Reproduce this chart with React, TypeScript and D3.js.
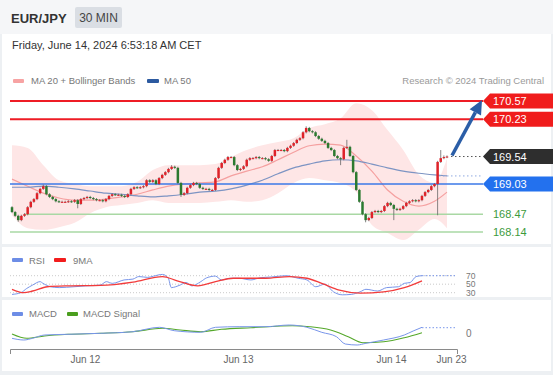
import { useEffect, useRef } from 'react';
import * as d3 from 'd3';

// price candles (30 min), opens follow the previous close
const firstOpen = 168.6;
const closes = [
  168.51, 168.44, 168.36, 168.44, 168.47, 168.6, 168.7, 168.75, 168.86, 168.94,
  168.99, 168.84, 168.79, 168.75, 168.71, 168.7, 168.7, 168.7, 168.71, 168.7,
  168.73, 168.66, 168.75, 168.77, 168.79, 168.77, 168.75, 168.73, 168.73, 168.71,
  168.75, 168.81, 168.84, 168.83, 168.83, 168.81, 168.79, 168.84, 168.94, 168.97,
  168.96, 168.97, 168.99, 169.1, 169.07, 169.1, 169.03, 169.14, 169.2, 169.25,
  169.31, 169.35, 169.33, 169.05, 168.83, 168.86, 168.96, 169.01, 169.05, 169.03,
  168.96, 168.94, 168.94, 168.92, 168.92, 169.14, 169.33, 169.42, 169.48, 169.53,
  169.53, 169.38, 169.29, 169.31, 169.36, 169.48, 169.51, 169.51, 169.53, 169.51,
  169.51, 169.49, 169.46, 169.55, 169.66, 169.66, 169.66, 169.64, 169.7, 169.74,
  169.79, 169.85, 169.88, 169.99, 170.07, 170.01, 169.99, 169.92, 169.87, 169.83,
  169.79, 169.7, 169.66, 169.55, 169.51, 169.49, 169.7, 169.72, 169.55, 169.25,
  168.92, 168.7, 168.47, 168.36, 168.4, 168.51, 168.53, 168.51, 168.53, 168.62,
  168.68, 168.64, 168.57, 168.55, 168.57, 168.62, 168.68, 168.71, 168.73, 168.71,
  168.73, 168.81, 168.88, 168.92, 168.99, 169.03, 169.44, 169.51, 169.53, 169.54,
];
// wick lengths beyond the body, in hundredths of a yen
const wickUp = [
  2, 2, 2, 2, 2, 2, 2, 2, 2, 2, 3, 2, 2, 2, 2, 2, 2, 2, 2, 2,
  2, 2, 2, 2, 2, 2, 2, 2, 2, 2, 2, 2, 2, 2, 2, 2, 2, 2, 2, 2,
  2, 2, 2, 2, 2, 2, 2, 2, 2, 2, 2, 3, 2, 2, 2, 2, 2, 2, 2, 2,
  2, 2, 2, 2, 2, 2, 2, 2, 2, 2, 2, 2, 2, 2, 2, 2, 2, 2, 2, 2,
  2, 2, 2, 2, 2, 2, 2, 2, 2, 2, 2, 2, 2, 2, 3, 2, 2, 2, 2, 2,
  2, 2, 2, 2, 2, 2, 2, 13, 2, 2, 2, 2, 2, 2, 2, 2, 2, 2, 2, 2,
  2, 2, 2, 2, 2, 2, 2, 2, 2, 2, 2, 2, 2, 2, 2, 2, 2, 15, 3, 2,
];
const wickDn = [
  2, 2, 3, 2, 2, 2, 2, 2, 2, 2, 2, 2, 2, 2, 2, 2, 2, 2, 2, 2,
  2, 8, 2, 2, 2, 2, 2, 2, 2, 2, 2, 2, 2, 2, 2, 2, 2, 2, 2, 2,
  2, 2, 2, 2, 2, 2, 2, 2, 2, 2, 2, 2, 2, 2, 4, 2, 2, 2, 2, 2,
  2, 2, 2, 2, 2, 2, 2, 2, 2, 2, 2, 2, 2, 2, 2, 2, 2, 2, 2, 2,
  2, 2, 2, 2, 2, 2, 2, 2, 2, 2, 2, 2, 2, 2, 2, 2, 2, 2, 2, 2,
  2, 2, 2, 2, 2, 11, 2, 2, 2, 2, 2, 2, 2, 4, 2, 2, 2, 2, 2, 2,
  2, 2, 21, 2, 2, 2, 2, 2, 2, 2, 2, 2, 2, 2, 2, 2, 58, 2, 2, 2,
];

// moving averages and bollinger bands, read every 5 candles
const bandIdx = [0, 5, 10, 15, 20, 25, 30, 35, 40, 45, 50, 55, 60, 65, 70, 75, 80, 85, 90, 95, 100, 105, 110, 115, 120, 125, 130, 135, 139];
const ma20 = [169.12, 168.99, 168.86, 168.77, 168.73, 168.73, 168.75, 168.79, 168.84, 168.92, 168.99, 169.03, 169.05, 169.07, 169.18, 169.27, 169.35, 169.48, 169.62, 169.74, 169.77, 169.75, 169.55, 169.27, 168.92, 168.71, 168.62, 168.71, 168.88];
const ma50 = [168.97, 168.97, 168.99, 168.97, 168.94, 168.9, 168.86, 168.84, 168.81, 168.79, 168.81, 168.84, 168.88, 168.9, 168.94, 169.01, 169.1, 169.22, 169.33, 169.4, 169.46, 169.48, 169.46, 169.4, 169.33, 169.27, 169.23, 169.2, 169.18];
const bbUpper = [169.75, 169.7, 169.38, 169.1, 169.03, 168.99, 168.99, 168.99, 169.07, 169.29, 169.38, 169.38, 169.38, 169.4, 169.53, 169.66, 169.75, 169.81, 169.88, 170.07, 170.14, 170.25, 170.53, 170.4, 170.03, 169.66, 169.2, 169.05, 169.51];
const bbLower = [168.45, 168.21, 168.18, 168.23, 168.31, 168.49, 168.6, 168.64, 168.68, 168.73, 168.68, 168.68, 168.68, 168.7, 168.73, 168.7, 168.73, 168.86, 169.05, 169.14, 169.1, 169.05, 168.88, 168.27, 168.12, 167.99, 168.18, 168.38, 168.21];

// RSI panel
const rsiIdx = [0, 3, 5, 7, 9.5, 10.5, 13, 16, 21, 25, 30, 32, 34, 38, 41, 43, 46, 48, 51, 53, 54, 57, 59, 61, 64, 66, 69, 71, 74, 77, 81, 84, 88, 93, 97, 100, 103, 106, 109, 112, 115, 118, 120, 124, 127, 131, 133, 135, 137, 139];
const rsiVal = [26, 30, 40, 48, 56, 52, 44, 42, 44, 46, 48, 56, 52, 60, 62, 68, 66, 69, 73, 64, 42, 48, 54, 46, 56, 65, 69, 60, 64, 64, 60, 65, 67, 70, 64, 60, 44, 50, 32, 25, 26, 32, 38, 34, 42, 44, 52, 54, 68, 70];
const rsiMaIdx = [0, 4, 7, 12, 19, 30, 41, 51, 56, 63, 69, 75, 86, 94, 100, 105, 111, 118, 126, 133, 139];
const rsiMaVal = [38, 30, 34, 44, 46, 47, 55, 68, 58, 46, 56, 64, 64, 68, 64, 52, 36, 29, 32, 42, 58];
const rsiLevels = [70, 50, 30];
const rsiNext = 70;

// MACD panel
const macdIdx = [0, 4, 7, 11, 19, 30, 41, 50, 55, 64, 69, 77, 86, 94, 100, 105, 110, 113, 117, 120, 126, 133, 136, 139];
const macdVal = [-0.053, -0.07, -0.053, -0.02, -0.013, -0.003, 0.013, 0.057, 0.023, 0.007, 0.057, 0.063, 0.063, 0.08, 0.057, 0.007, -0.037, -0.11, -0.12, -0.103, -0.07, -0.02, 0.02, 0.057];
const signalIdx = [0, 5, 11, 19, 30, 41, 51, 57, 64, 71, 81, 95, 101, 108, 114, 119, 126, 133, 139];
const signalVal = [-0.01, -0.053, -0.03, -0.013, -0.003, 0.013, 0.047, 0.03, 0.013, 0.037, 0.053, 0.073, 0.063, 0.03, -0.037, -0.097, -0.087, -0.047, 0.003];
const macdNext = 0.053;

// levels
const resistance = [170.57, 170.23];
const pivot = 169.03;
const supports = [168.47, 168.14];
const supportFrom = [4, -0.64];
const lastPrice = 169.54;

const xTicks = [23.3, 72.2, 121.1, 140.3];
const xTickLabels = ['Jun 12', 'Jun 13', 'Jun 14', 'Jun 23'];

const FONT = 'Liberation Sans, Arial, sans-serif';
const RED = '#de2229';
const GREEN = '#2c7a30';

const App = () => {
  const axisRef = useRef<SVGGElement | null>(null);
  const W = 553;
  const H = 375;
  const n = closes.length;

  const x = d3.scaleLinear().domain([0, n - 1]).range([12, 447]);
  const xi = d3.scaleLinear().domain([0, n - 1]).range([12, 422]);
  const xAxis = x.copy().domain([x.invert(10), x.invert(457)]).range([10, 457]);
  const y = d3.scaleLinear().domain([168.14, 170.57]).range([232, 101]);
  const yR = d3.scaleLinear().domain([30, 70]).range([292.7, 275.7]);
  const yM = d3.scaleLinear().domain([0, 0.1]).range([333, 323]);

  const tagX = 483;
  const endX = xAxis.range()[1];

  const candles = closes.map((c, i) => {
    const o = i === 0 ? firstOpen : closes[i - 1];
    return {
      i,
      o,
      c,
      h: Math.max(o, c) + wickUp[i] / 100,
      l: Math.min(o, c) - wickDn[i] / 100,
    };
  });

  const band = d3
    .area<number>()
    .x((d) => x(d))
    .y0((_, k) => y(bbLower[k]))
    .y1((_, k) => y(bbUpper[k]))
    .curve(d3.curveMonotoneX);
  const maLine = (vals: number[]) =>
    d3
      .line<number>()
      .x((d) => x(d))
      .y((_, k) => y(vals[k]))
      .curve(d3.curveMonotoneX)(bandIdx);
  const subLine = (idx: number[], vals: number[], ys: d3.ScaleLinear<number, number>) =>
    d3
      .line<number>()
      .x((d) => xi(d))
      .y((_, k) => ys(vals[k]))
      .curve(d3.curveMonotoneX)(idx);

  useEffect(() => {
    if (!axisRef.current) return;
    const g = d3.select(axisRef.current);
    g.selectAll('*').remove();
    g.call(
      d3
        .axisBottom(xAxis)
        .tickValues(xTicks)
        .tickFormat((_, i) => xTickLabels[i])
        .tickSizeInner(0)
        .tickSizeOuter(5)
        .tickPadding(7)
    );
    g.select('.domain').attr('stroke', '#8a8a8a');
    g.selectAll('text').attr('fill', '#666').attr('font-size', 10).attr('font-family', FONT);
  }, []);

  // arrow from last close to the top target
  const ax0 = x(n - 1) + 5;
  const ay0 = y(lastPrice) - 1;
  const ax1 = tagX - 1;
  const ay1 = y(resistance[0]) - 1;
  const len = Math.hypot(ax1 - ax0, ay1 - ay0);
  const ux = (ax1 - ax0) / len;
  const uy = (ay1 - ay0) / len;
  const headL = 14;
  const headW = 6.5;
  const bx = ax1 - ux * headL;
  const by = ay1 - uy * headL;

  const tag = (v: number, fill: string) => {
    const yy = y(v);
    const pts = [
      [tagX, yy],
      [tagX + 7, yy - 7.5],
      [W, yy - 7.5],
      [W, yy + 7.5],
      [tagX + 7, yy + 7.5],
    ]
      .map((p) => p.join(','))
      .join(' ');
    return (
      <g key={`tag-${v}`}>
        <polygon points={pts} fill={fill} />
        <text x={tagX + 10} y={yy + 4} fill="#fff" fontSize={11}>
          {v.toFixed(2)}
        </text>
      </g>
    );
  };

  return (
    <div style={{ position: 'absolute', left: 0, top: 0 }}>
      <svg width={W} height={H} fontFamily={FONT}>
        <rect width={W} height={H} fill="#edf0f3" />
        <rect width={W} height={34} fill="#f5f6f8" />
        <rect x={2} y={34} width={W - 4} height={210} fill="#fff" />
        <rect x={2} y={247} width={W - 4} height={50} fill="#fff" />
        <rect x={2} y={300} width={W - 4} height={71} fill="#fff" />

        {/* header */}
        <text x={11} y={22.5} fontSize={13} fontWeight="bold" fill="#333">
          EUR/JPY
        </text>
        <rect x={75} y={7} width={47} height={21} rx={2} fill="#dadee4" />
        <text x={98.5} y={22} fontSize={12} fill="#444" textAnchor="middle">
          30 MIN
        </text>
        <text x={12} y={49} fontSize={11} fill="#333">
          Friday, June 14, 2024 6:53:18 AM CET
        </text>

        {/* legend */}
        <rect x={13} y={79} width={11} height={4} rx={1} fill="#f7a3a3" />
        <text x={31} y={84} fontSize={9.5} fill="#777">
          MA 20 + Bollinger Bands
        </text>
        <rect x={147} y={79} width={12} height={4} rx={1} fill="#2c5aa0" />
        <text x={164} y={84} fontSize={9.5} fill="#777">
          MA 50
        </text>
        <text x={544} y={84} fontSize={9.5} fill="#9a9a9a" textAnchor="end">
          Research © 2024 Trading Central
        </text>

        {/* bollinger + moving averages */}
        <path d={band(bandIdx) ?? ''} fill="#fee6e6" />
        <path d={maLine(ma20) ?? ''} fill="none" stroke="#f5a0a0" strokeWidth={1.2} />
        <path d={maLine(ma50) ?? ''} fill="none" stroke="#7d94c3" strokeWidth={1.2} />

        {/* levels */}
        {resistance.map((v) => (
          <line key={v} x1={10} x2={tagX} y1={y(v)} y2={y(v)} stroke="#ee1c25" strokeWidth={2} />
        ))}
        {supports.map((v, k) => (
          <line key={v} x1={xAxis(supportFrom[k])} x2={tagX} y1={y(v)} y2={y(v)} stroke="#a9d8a4" strokeWidth={1.5} />
        ))}
        <line x1={10} x2={tagX} y1={y(pivot)} y2={y(pivot)} stroke="#3b78e7" strokeWidth={1.5} />
        <line
          x1={x(n - 1) + 4}
          x2={tagX}
          y1={y(lastPrice)}
          y2={y(lastPrice)}
          stroke="#555"
          strokeWidth={1}
          strokeDasharray="1.5,2.5"
        />
        <line
          x1={x(n - 1) - 8}
          x2={tagX}
          y1={y(ma50[ma50.length - 1])}
          y2={y(ma50[ma50.length - 1])}
          stroke="#8fa8e0"
          strokeWidth={1}
          strokeDasharray="1.5,2.5"
        />

        {/* candles */}
        {candles.map((d) => {
          const up = d.c >= d.o;
          const top = y(Math.max(d.o, d.c));
          const bot = y(Math.min(d.o, d.c));
          return (
            <g key={d.i}>
              <line x1={x(d.i)} x2={x(d.i)} y1={y(d.h)} y2={y(d.l)} stroke="#666" strokeWidth={0.8} />
              <rect
                x={x(d.i) - 1.25}
                y={top}
                width={2.5}
                height={Math.max(1, bot - top)}
                fill={up ? RED : GREEN}
              />
            </g>
          );
        })}

        {/* arrow */}
        <line x1={ax0} y1={ay0} x2={bx} y2={by} stroke="#2b5ea7" strokeWidth={3.5} />
        <polygon
          points={`${ax1},${ay1} ${bx - uy * headW},${by + ux * headW} ${bx + uy * headW},${by - ux * headW}`}
          fill="#2b5ea7"
        />

        {/* tags */}
        {resistance.map((v) => tag(v, '#f01c1c'))}
        {tag(lastPrice, '#2e2e2e')}
        {tag(pivot, '#2371ee')}
        {supports.map((v) => (
          <text key={`s-${v}`} x={tagX + 10} y={y(v) + 4} fill="#3c9a3c" fontSize={11}>
            {v.toFixed(2)}
          </text>
        ))}

        {/* RSI */}
        <rect x={12} y={258} width={11} height={4} rx={1} fill="#6d8de6" />
        <text x={29} y={263.5} fontSize={9.5} fill="#777">
          RSI
        </text>
        <rect x={54} y={258} width={12} height={4} rx={1} fill="#f21d1d" />
        <text x={73} y={263.5} fontSize={9.5} fill="#777">
          9MA
        </text>
        {rsiLevels.map((v) => (
          <g key={`r-${v}`}>
            <line x1={10} x2={endX} y1={yR(v)} y2={yR(v)} stroke="#bbb" strokeWidth={0.8} strokeDasharray="1,2" />
            <text x={466} y={yR(v) + 3} fontSize={8.5} fill="#777">
              {v}
            </text>
          </g>
        ))}
        <path d={subLine(rsiIdx, rsiVal, yR) ?? ''} fill="none" stroke="#7895ea" strokeWidth={1} />
        <path d={subLine(rsiMaIdx, rsiMaVal, yR) ?? ''} fill="none" stroke="#f23b3b" strokeWidth={1.3} />
        <line
          x1={xi(n - 1)}
          x2={endX}
          y1={yR(rsiNext)}
          y2={yR(rsiNext)}
          stroke="#7895ea"
          strokeWidth={1}
          strokeDasharray="1.5,2"
        />

        {/* MACD */}
        <rect x={12} y={312} width={11} height={4} rx={1} fill="#6d8de6" />
        <text x={29} y={317} fontSize={9.5} fill="#777">
          MACD
        </text>
        <rect x={67} y={312} width={11} height={4} rx={1} fill="#4a9e1e" />
        <text x={83} y={317} fontSize={9.5} fill="#777">
          MACD Signal
        </text>
        <text x={466} y={yM(0) + 3.5} fontSize={10} fill="#777">
          0
        </text>
        <path d={subLine(signalIdx, signalVal, yM) ?? ''} fill="none" stroke="#55a82b" strokeWidth={1.1} />
        <path d={subLine(macdIdx, macdVal, yM) ?? ''} fill="none" stroke="#7895ea" strokeWidth={1} />
        <line
          x1={xi(n - 1)}
          x2={endX}
          y1={yM(macdNext)}
          y2={yM(macdNext)}
          stroke="#7895ea"
          strokeWidth={1}
          strokeDasharray="1.5,2"
        />

        <g ref={axisRef} transform="translate(0,349)" />
      </svg>
    </div>
  );
};

export default App;
